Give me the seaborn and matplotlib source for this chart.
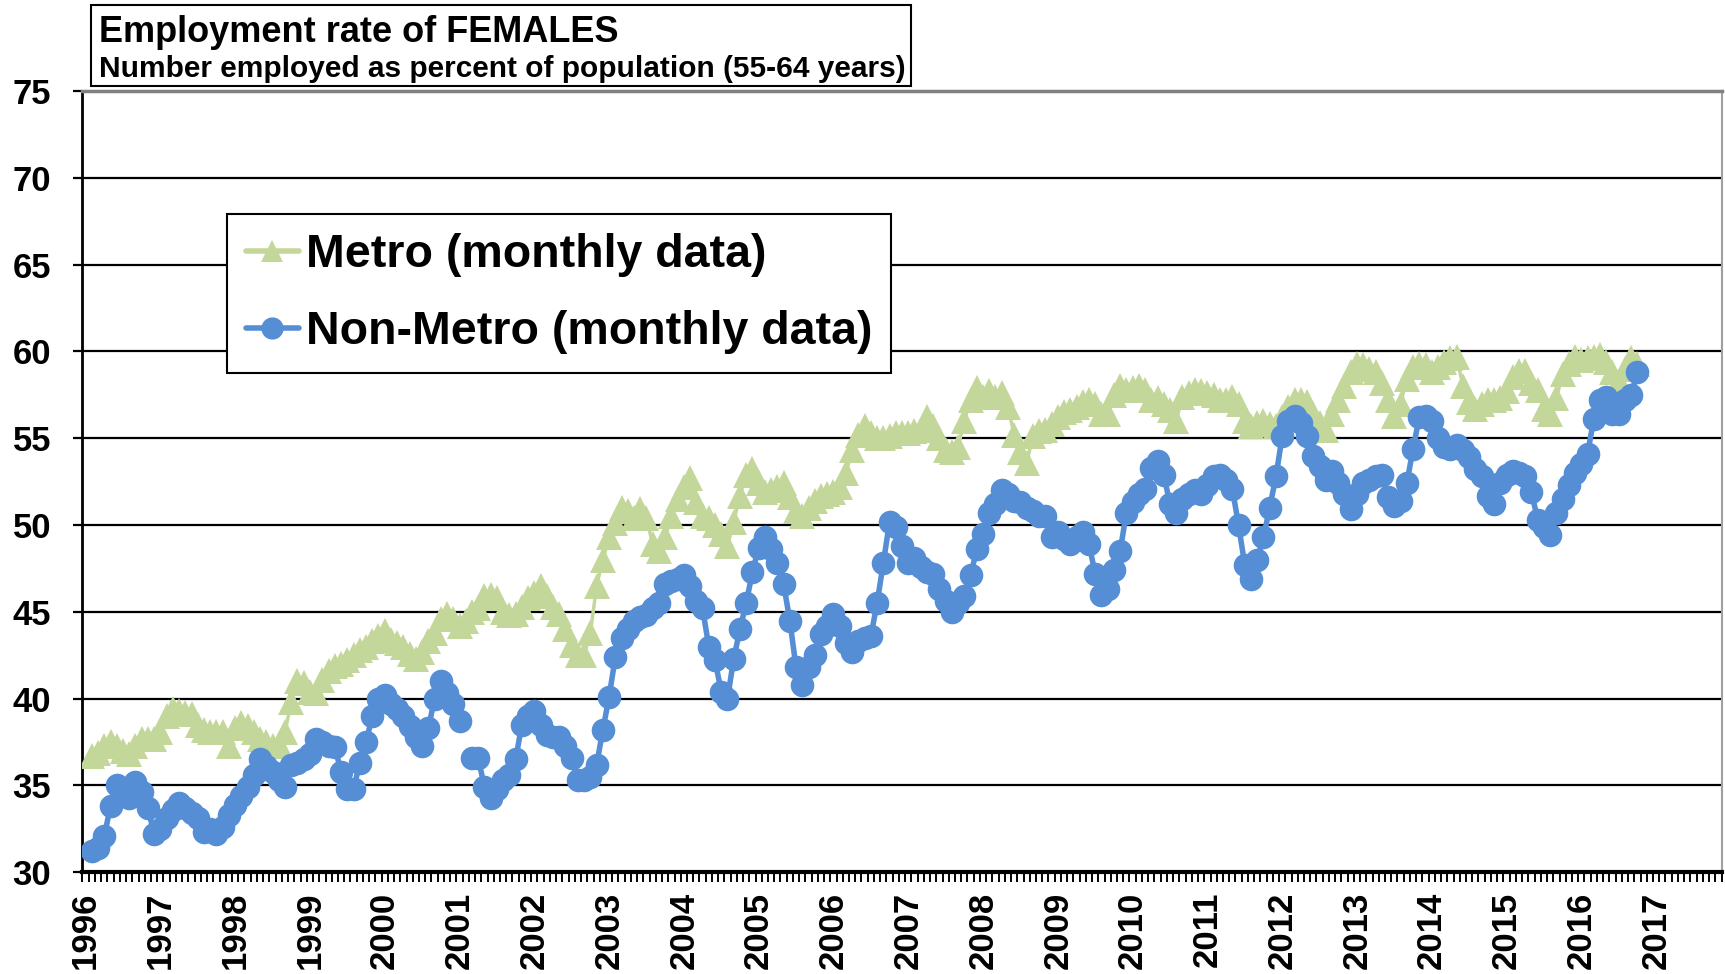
import numpy as np
import pandas as pd
import matplotlib
matplotlib.use("Agg")
import matplotlib.pyplot as plt
from matplotlib.lines import Line2D
from matplotlib.patches import Rectangle
import seaborn as sns

# category axis: one category per month, Jan 1996 = 0
year_labels = [str(y) for y in range(1996, 2018)]
first_category = 1
n_categories = 263

title_line1 = "Employment rate of FEMALES"
title_line2 = "Number employed as percent of population (55-64 years)"
metro_label = "Metro (monthly data)"
nonmetro_label = "Non-Metro (monthly data)"

# Metro, monthly (Feb 1996 .. Oct 2016)
metro = [
    36.7, 36.9, 37.3, 37.5, 37.3, 37.0, 36.8, 37.3, 37.7, 37.7,
    37.7, 38.1, 39.0, 39.4, 39.3, 39.2, 39.1, 38.5, 38.2, 38.1, 38.1, 38.1,
    37.3, 38.3, 38.6, 38.4, 38.1, 37.7, 37.5, 37.3, 37.4, 38.1, 39.8, 41.0,
    40.9, 40.4, 40.3, 41.1, 41.6, 41.9, 42.0, 42.2, 42.5, 42.8, 43.0, 43.3,
    43.6, 43.9, 43.4, 43.2, 43.0, 42.6, 42.3, 42.7, 43.3, 43.8, 44.6, 44.9,
    44.6, 44.2, 44.5, 45.0, 45.2, 45.9, 46.0, 45.8, 45.0, 44.8, 44.9, 45.3,
    45.8, 46.1, 46.5, 45.9, 45.3, 44.9, 44.0, 43.1, 42.5, 42.5, 43.8, 46.5,
    48.0, 49.3, 50.1, 51.0, 50.8, 50.4, 50.9, 50.4, 48.9, 48.5, 49.3, 50.5,
    51.5, 52.2, 52.7, 51.3, 50.5, 50.4, 50.0, 49.5, 48.8, 50.2, 51.7, 52.9,
    53.2, 52.4, 51.9, 52.0, 52.2, 52.4, 51.6, 50.8, 50.5, 51.0, 51.4, 51.7,
    51.8, 51.9, 52.2, 53.0, 54.3, 55.2, 55.7, 55.3, 55.0, 55.0, 55.1, 55.3,
    55.3, 55.3, 55.4, 55.5, 56.2, 55.7, 55.0, 54.3, 54.2, 54.5, 56.0, 57.2,
    57.9, 57.4, 57.7, 57.4, 57.6, 56.8, 55.2, 54.2, 53.6, 55.1, 55.4, 55.5,
    55.8, 56.2, 56.5, 56.6, 56.8, 57.1, 57.2, 57.0, 56.4, 56.4, 57.5, 58.0,
    57.8, 57.9, 58.0, 57.8, 57.2, 57.3, 57.0, 56.6, 56.0, 57.4, 57.6, 57.8,
    57.7, 57.6, 57.5, 57.2, 57.2, 57.4, 57.0, 56.0, 55.7, 55.9, 56.0, 55.8,
    55.7, 56.2, 56.8, 57.2, 57.2, 57.1, 56.4, 55.9, 55.5, 56.4, 57.2, 58.0,
    58.8, 59.3, 59.2, 59.0, 58.8, 58.2, 57.2, 56.3, 57.0, 58.4, 59.1, 59.3,
    59.2, 58.8, 59.1, 59.4, 59.6, 59.7, 58.0, 57.1, 56.7, 57.0, 57.2, 57.2,
    57.3, 57.7, 58.5, 58.9, 58.9, 58.2, 57.8, 56.7, 56.4, 57.3, 58.7, 59.3,
    59.7, 59.5, 59.6, 59.7, 59.8, 59.4, 58.8, 58.3, 59.0, 59.6, 59.3,
]

# Non-Metro, monthly (Feb 1996 .. Oct 2016), one missing month in 2001
nonmetro = [
    31.2, 31.4, 32.1, 33.8, 35.0, 34.5, 34.3, 35.2, 34.6, 33.7,
    32.2, 32.5, 33.1, 33.6, 34.0, 33.7, 33.4, 33.1, 32.3, 32.5, 32.2, 32.6,
    33.3, 33.9, 34.4, 34.9, 35.6, 36.5, 36.1, 35.8, 35.3, 34.9, 36.2, 36.3,
    36.5, 36.8, 37.7, 37.5, 37.3, 37.2, 35.8, 34.8, 34.8, 36.3, 37.5, 39.0,
    40.0, 40.2, 39.7, 39.4, 39.0, 38.4, 37.8, 37.3, 38.3, 40.0, 41.0, 40.3,
    39.7, 38.7, np.nan, 36.6, 36.6, 34.9, 34.3, 34.8, 35.3, 35.6, 36.5, 38.5,
    39.0, 39.3, 38.5, 37.9, 37.8, 37.8, 37.3, 36.6, 35.3, 35.3, 35.5, 36.2,
    38.2, 40.1, 42.4, 43.5, 44.0, 44.5, 44.7, 44.8, 45.2, 45.5, 46.6, 46.8,
    46.9, 47.1, 46.5, 45.6, 45.2, 43.0, 42.2, 40.4, 40.0, 42.3, 44.0, 45.5,
    47.3, 48.7, 49.3, 48.6, 47.8, 46.6, 44.5, 41.8, 40.8, 41.8, 42.5, 43.7,
    44.2, 44.9, 44.2, 43.2, 42.7, 43.3, 43.5, 43.6, 45.5, 47.8, 50.2, 49.9,
    48.8, 47.8, 48.1, 47.6, 47.3, 47.2, 46.3, 45.6, 45.0, 45.5, 45.9, 47.1,
    48.6, 49.5, 50.7, 51.2, 52.0, 51.8, 51.4, 51.3, 51.0, 50.8, 50.5, 50.5,
    49.3, 49.6, 49.2, 48.9, 49.3, 49.6, 48.9, 47.2, 46.0, 46.3, 47.4, 48.5,
    50.7, 51.3, 51.8, 52.1, 53.3, 53.7, 52.9, 51.2, 50.7, 51.5, 51.8, 52.0,
    51.8, 52.3, 52.8, 52.9, 52.6, 52.1, 50.0, 47.7, 46.9, 48.0, 49.3, 51.0,
    52.8, 55.1, 56.0, 56.3, 55.9, 55.1, 54.0, 53.4, 52.6, 53.1, 52.4, 51.8,
    50.9, 51.8, 52.4, 52.6, 52.8, 52.9, 51.6, 51.1, 51.4, 52.4, 54.4, 56.2,
    56.3, 56.0, 55.0, 54.5, 54.4, 54.6, 54.3, 53.9, 53.2, 52.8, 51.7, 51.2,
    52.4, 52.9, 53.1, 53.0, 52.8, 51.9, 50.3, 49.9, 49.4, 50.7, 51.5, 52.3,
    53.0, 53.5, 54.1, 56.1, 57.2, 57.4, 56.4, 56.4, 57.2, 57.5, 58.8,
]

green = "#C4D79B"
blue = "#558ED5"

sns.set_style("white")
plt.rcParams['font.family'] = ['Liberation Sans', 'DejaVu Sans']
plt.rcParams['font.weight'] = 'bold'
plt.rcParams['text.color'] = 'black'
plt.rcParams['xtick.color'] = 'black'
plt.rcParams['ytick.color'] = 'black'

# categories are centred between month tick marks
pos = np.arange(len(metro)) + first_category + 0.5
df_metro = pd.DataFrame({'pos': pos, 'rate': metro})
df_non = pd.DataFrame({'pos': pos, 'rate': nonmetro})
df_non['seg'] = df_non['rate'].isna().cumsum()
df_non = df_non.dropna()

fig = plt.figure(figsize=(17.25, 9.74), dpi=100)
ax = fig.add_axes([0.0478, 0.1044, 0.9502, 0.8022])

sns.lineplot(data=df_metro, x='pos', y='rate', ax=ax, color=green, marker='^',
             markersize=19, markeredgecolor=green, markeredgewidth=0,
             linewidth=2.5, estimator=None, legend=False, zorder=3)
sns.lineplot(data=df_non, x='pos', y='rate', units='seg', ax=ax, color=blue,
             marker='o', markersize=17, markeredgecolor=blue, markeredgewidth=0,
             linewidth=4, estimator=None, legend=False, zorder=4)

ax.set_xlim(0, n_categories)
ax.set_ylim(30, 75)
ax.set_yticks(range(30, 76, 5))
ax.yaxis.grid(True, color='black', linewidth=1.6)
ax.xaxis.grid(False)
ax.set_axisbelow(True)

ax.set_xticks(np.arange(len(year_labels)) * 12 + 0.5)
ax.set_xticklabels(year_labels, rotation=90, fontsize=25, fontweight='bold')
ax.set_xticks(np.arange(0, n_categories + 1), minor=True)
ax.tick_params(axis='x', which='major', length=0, pad=14)
ax.tick_params(axis='x', which='minor', length=7, width=1.4, direction='out',
               color='black', bottom=True)
ax.tick_params(axis='y', which='major', length=6.5, width=1.6, direction='out',
               color='black', labelsize=25, pad=16, left=True)
for lab in ax.get_yticklabels():
    lab.set_fontweight('bold')
ax.set_xlabel('')
ax.set_ylabel('')

for side in ['left', 'bottom']:
    ax.spines[side].set_color('black')
ax.spines['left'].set_linewidth(2)
ax.spines['bottom'].set_linewidth(3)
ax.spines['top'].set_color('#808080')
ax.spines['top'].set_linewidth(2.5)
ax.spines['right'].set_color('#a0a0a0')
ax.spines['right'].set_linewidth(1.5)

handles = [
    Line2D([], [], color=green, marker='^', markersize=16, linewidth=4,
           markeredgewidth=0),
    Line2D([], [], color=blue, marker='o', markersize=16, linewidth=4,
           markeredgewidth=0),
]
leg = ax.legend(handles, [metro_label, nonmetro_label], loc='upper left',
                bbox_to_anchor=(0.1316, 0.780), bbox_transform=fig.transFigure,
                prop={'size': 33.5, 'weight': 'bold'}, frameon=True, fancybox=False,
                edgecolor='black', framealpha=1, borderaxespad=0, borderpad=0.4,
                handlelength=1.15, handletextpad=0.15, labelspacing=0.72)
leg.get_frame().set_linewidth(1.5)
for t in leg.get_texts():
    t.set_color('black')

# title box
fig.patches.append(Rectangle((0.0528, 0.9117), 0.4754, 0.0832, transform=fig.transFigure,
                             facecolor='white', edgecolor='black', linewidth=1.5))
fig.text(0.0574, 0.967, title_line1, fontsize=26, fontweight='bold', va='center', ha='left')
fig.text(0.0574, 0.929, title_line2, fontsize=21.5, fontweight='bold', va='center', ha='left')

fig.savefig('out.png', dpi=100)
